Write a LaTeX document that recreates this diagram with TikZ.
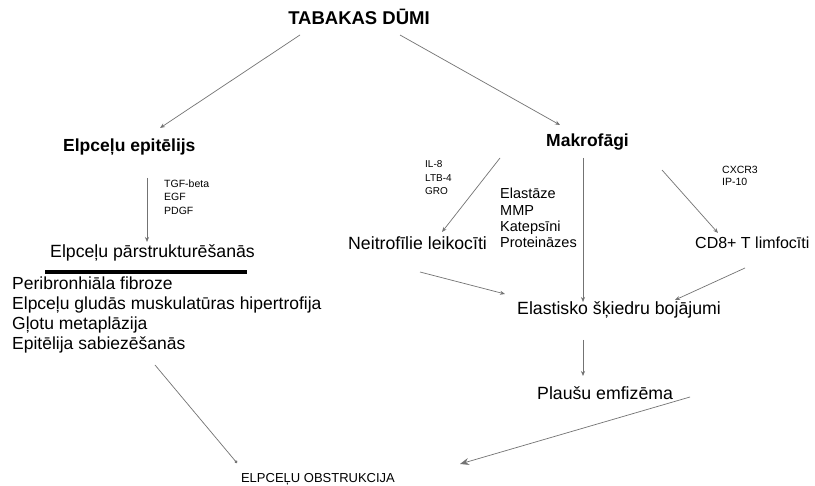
\documentclass[tikz,border=0pt]{standalone}
\usepackage{fontspec}
\setmainfont{Liberation Sans}
\usetikzlibrary{calc,arrows.meta}
\tikzset{
  lbl/.style={inner sep=0pt, font=\fontsize{17.7}{20}\selectfont, anchor=west},
  small/.style={inner sep=0pt, anchor=west, align=left, font=\fontsize{10}{13}\selectfont},
  conn/.style={draw=black!55, line width=0.7pt, -{Stealth[length=5pt,width=4pt]}},
}
\begin{document}
\begin{tikzpicture}[x=1pt,y=-1pt]
\useasboundingbox (0,0) rectangle (815,486);
\fill[white] (0,0) rectangle (815,486);

\node[inner sep=0pt, font=\fontsize{18.5}{20}\selectfont\bfseries] (tab) at (359,17) {TABAKAS DŪMI};
\node[lbl, font=\fontsize{17.5}{20}\selectfont\bfseries] (epi) at (63,147) {Elpceļu epitēlijs};
\node[lbl, font=\fontsize{17.5}{20}\selectfont\bfseries] (mak) at (546,142) {Makrofāgi};
\node[small, font=\fontsize{10.5}{13.5}\selectfont] (tgf) at (164,197) {TGF-beta\\EGF\\PDGF};
\node[lbl] (rem) at (50,253) {Elpceļu pārstrukturēšanās};
\draw[line width=4pt] (45,272) -- (247,272);
\node[lbl, align=left, font=\fontsize{17.5}{20}\selectfont] (list) at (12,315) {Peribronhiāla fibroze\\Elpceļu gludās muskulatūras hipertrofija\\Gļotu metaplāzija\\Epitēlija sabiezēšanās};
\node[small, font=\fontsize{10}{13.5}\selectfont] (il) at (425,178) {IL-8\\LTB-4\\GRO};
\node[lbl] (neu) at (348,243) {Neitrofīlie leikocīti};
\node[small, font=\fontsize{14.5}{16.3}\selectfont] (elas) at (500,218) {Elastāze\\MMP\\Katepsīni\\Proteināzes};
\node[small, font=\fontsize{10.5}{12}\selectfont] (cx) at (722,176) {CXCR3\\IP-10};
\node[lbl, font=\fontsize{16}{18}\selectfont] (cd8) at (695,243) {CD8+ T limfocīti};
\node[lbl] (eb) at (517,310) {Elastisko šķiedru bojājumi};
\node[lbl] (emf) at (537,393) {Plaušu emfizēma};
\node[inner sep=0pt, font=\fontsize{13}{15}\selectfont] (obs) at (318,479) {ELPCEĻU OBSTRUKCIJA};

\draw[conn] ($(tab.center)+(-59,18)$) -- ($(epi.west)+(97,-19)$);
\draw[conn] ($(tab.center)+(41,18)$) -- ($(mak.west)+(14,-17)$);
\draw[conn] ($(epi.west)+(84,31)$) -- ($(rem.west)+(97,-11)$);
\draw[conn] ($(mak.west)+(-46,16)$) -- ($(neu.west)+(94,-11)$);
\draw[conn] ($(mak.west)+(37,16)$) -- ($(eb.west)+(66,-8)$);
\draw[conn] ($(mak.west)+(116,28)$) -- ($(cd8.west)+(23,-10)$);
\draw[conn] ($(neu.west)+(72,29)$) -- ($(eb.west)+(-12,-16)$);
\draw[conn] ($(cd8.west)+(50,25)$) -- ($(eb.west)+(158,-10)$);
\draw[conn] ($(eb.west)+(66,30)$) -- ($(emf.west)+(46,-17)$);
\draw[conn, -{Circle[length=3pt]}] ($(list.west)+(143,50)$) -- ($(obs.center)+(-81,-16)$);
\draw[conn, -{Stealth[length=9pt,width=7pt,inset=3pt]}] ($(emf.west)+(153,4)$) -- ($(obs.center)+(142,-15)$);
\end{tikzpicture}
\end{document}
